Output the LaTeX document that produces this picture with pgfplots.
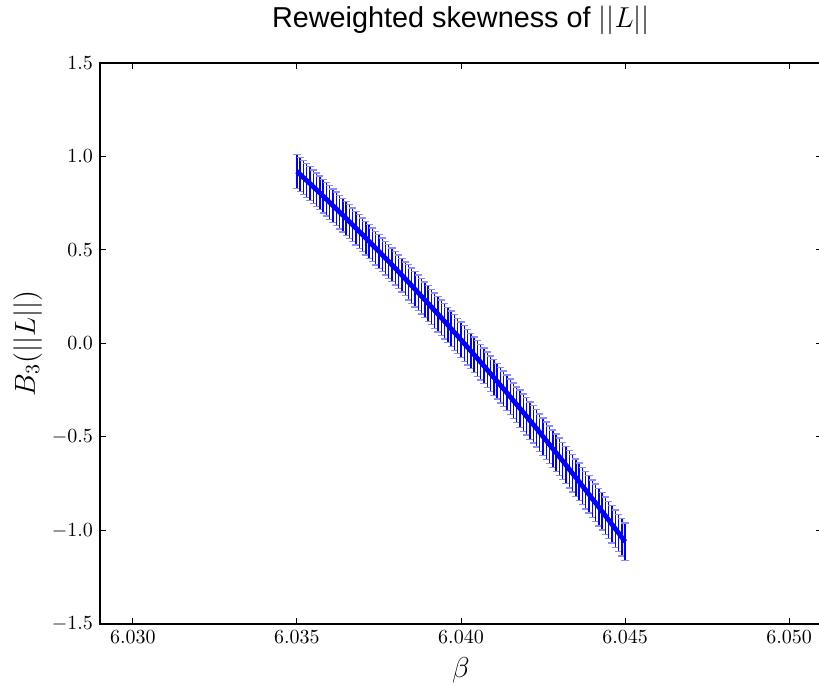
\documentclass[border=0pt]{standalone}
\usepackage{pgfplots}
\pgfplotsset{compat=1.18}
\usepackage{pgfplotstable}
\usepackage{fontspec}
\newfontfamily\titlefont{Liberation Sans}

% beta, B3, error
\pgfplotstableread{
x y e
6.0350 0.920 0.090
6.0351 0.904 0.090
6.0352 0.887 0.090
6.0353 0.871 0.090
6.0354 0.855 0.090
6.0355 0.838 0.090
6.0356 0.822 0.090
6.0357 0.805 0.090
6.0358 0.788 0.090
6.0359 0.771 0.090
6.0360 0.754 0.090
6.0361 0.737 0.090
6.0362 0.720 0.090
6.0363 0.703 0.090
6.0364 0.686 0.090
6.0365 0.669 0.090
6.0366 0.652 0.090
6.0367 0.634 0.090
6.0368 0.617 0.090
6.0369 0.599 0.090
6.0370 0.582 0.090
6.0371 0.564 0.090
6.0372 0.546 0.090
6.0373 0.528 0.090
6.0374 0.510 0.090
6.0375 0.492 0.090
6.0376 0.474 0.090
6.0377 0.456 0.090
6.0378 0.438 0.090
6.0379 0.420 0.090
6.0380 0.402 0.090
6.0381 0.383 0.090
6.0382 0.365 0.090
6.0383 0.346 0.090
6.0384 0.328 0.095
6.0385 0.309 0.095
6.0386 0.290 0.095
6.0387 0.271 0.095
6.0388 0.252 0.095
6.0389 0.233 0.095
6.0390 0.214 0.095
6.0391 0.195 0.095
6.0392 0.176 0.095
6.0393 0.157 0.095
6.0394 0.138 0.095
6.0395 0.118 0.095
6.0396 0.099 0.095
6.0397 0.079 0.095
6.0398 0.059 0.095
6.0399 0.040 0.095
6.0400 0.020 0.095
6.0401 0.000 0.095
6.0402 -0.020 0.095
6.0403 -0.040 0.095
6.0404 -0.060 0.095
6.0405 -0.080 0.095
6.0406 -0.100 0.095
6.0407 -0.120 0.095
6.0408 -0.141 0.095
6.0409 -0.161 0.095
6.0410 -0.182 0.095
6.0411 -0.202 0.095
6.0412 -0.223 0.095
6.0413 -0.243 0.095
6.0414 -0.264 0.095
6.0415 -0.285 0.095
6.0416 -0.306 0.095
6.0417 -0.327 0.095
6.0418 -0.348 0.100
6.0419 -0.369 0.100
6.0420 -0.390 0.100
6.0421 -0.412 0.100
6.0422 -0.433 0.100
6.0423 -0.454 0.100
6.0424 -0.476 0.100
6.0425 -0.498 0.100
6.0426 -0.519 0.100
6.0427 -0.541 0.100
6.0428 -0.563 0.100
6.0429 -0.584 0.100
6.0430 -0.606 0.100
6.0431 -0.628 0.100
6.0432 -0.650 0.100
6.0433 -0.673 0.100
6.0434 -0.695 0.100
6.0435 -0.717 0.100
6.0436 -0.739 0.100
6.0437 -0.762 0.100
6.0438 -0.784 0.100
6.0439 -0.807 0.100
6.0440 -0.830 0.100
6.0441 -0.852 0.100
6.0442 -0.875 0.100
6.0443 -0.898 0.100
6.0444 -0.921 0.100
6.0445 -0.944 0.100
6.0446 -0.967 0.100
6.0447 -0.990 0.100
6.0448 -1.013 0.100
6.0449 -1.037 0.100
6.0450 -1.060 0.100
}\skewdata

\begin{document}
\begin{tikzpicture}
% the original figure is cut just left of the right spine
\useasboundingbox (-50pt,-31pt) rectangle (359.5pt,312pt);
\begin{scope}[overlay]
\begin{axis}[
  at={(0pt,0pt)}, anchor=south west,
  scale only axis,
  width=361pt, height=280.5pt,
  xmin=6.029, xmax=6.051,
  ymin=-1.5, ymax=1.5,
  xtick={6.030,6.035,6.040,6.045,6.050},
  ytick={-1.5,-1.0,-0.5,0.0,0.5,1.0,1.5},
  xticklabel style={/pgf/number format/.cd, fixed, fixed zerofill, precision=3},
  yticklabel style={/pgf/number format/.cd, fixed, fixed zerofill, precision=1},
  scaled x ticks=false,
  tick align=inside,
  major tick length=3pt,
  tick style={black, line width=0.5pt},
  axis line style={line width=0.8pt},
  ticklabel style={font=\fontsize{10}{12}\selectfont},
  xlabel={$\beta$},
  ylabel={$B_3(||L||)$},
  label style={font=\fontsize{14}{16}\selectfont},
  ylabel style={yshift=-2pt},
  title={\titlefont Reweighted skewness of $||L||$},
  title style={font=\fontsize{14.4}{16}\selectfont, at={(0.5,1)}, anchor=base, yshift=11.5pt},
]
\addplot[blue, line width=0.7pt, mark=none,
  error bars/.cd, y dir=both, y explicit,
  error bar style={blue, line width=0.7pt},
  error mark options={rotate=90, blue!45, line width=0.7pt, mark size=1.8pt}]
  table[x=x, y=y, y error=e] {\skewdata};
\addplot[blue, line width=2.4pt, mark=none] table[x=x, y=y] {\skewdata};
\end{axis}
\end{scope}
\end{tikzpicture}
\end{document}
